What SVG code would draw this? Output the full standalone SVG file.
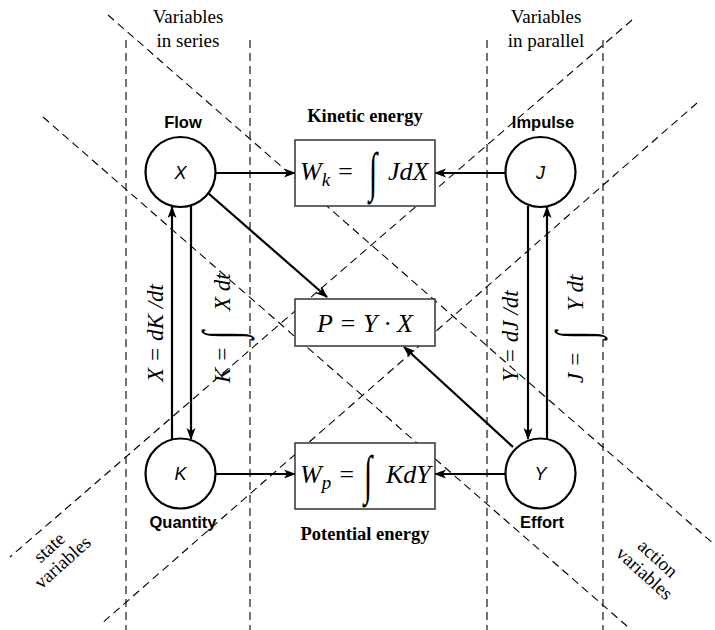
<svg xmlns="http://www.w3.org/2000/svg" width="715" height="630" viewBox="0 0 715 630">
<style>
.dash{stroke:#000;stroke-width:1.1;stroke-dasharray:8 5;fill:none}
.node{fill:#fff;stroke:#000;stroke-width:2.2}
.box{fill:#fff;stroke:#333;stroke-width:1.5}
.arr{stroke:#000;stroke-width:2.2;fill:none;marker-end:url(#ah)}
.cap{font-family:"Liberation Serif",serif;font-size:19px}
.bold{font-family:"Liberation Serif",serif;font-size:18.5px;font-weight:bold}
.sans{font-family:"Liberation Sans",Arial,sans-serif;font-size:16.5px;font-weight:bold}
.var{font-family:"Liberation Sans",Arial,sans-serif;font-size:18px;font-style:italic}
.math{font-family:"Liberation Serif","DejaVu Serif",serif;font-size:26px;font-style:italic}
.int{font-family:"Liberation Serif",serif;font-size:30px;font-weight:normal;font-style:normal}
.lab{font-family:"Liberation Serif","DejaVu Serif",serif;font-size:23px;font-style:italic}
</style>
<defs>
<marker id="ah" markerWidth="12" markerHeight="10" refX="11" refY="4.5" orient="auto" markerUnits="userSpaceOnUse">
<path d="M0,0 L12,4.5 L0,9 L3,4.5 z" fill="#000"/>
</marker>
</defs>
<rect width="715" height="630" fill="#fff"/>
<g id="guides">
<line class="dash" x1="126" y1="40" x2="126" y2="630"/>
<line class="dash" x1="250" y1="40" x2="250" y2="630"/>
<line class="dash" x1="487" y1="40" x2="487" y2="630"/>
<line class="dash" x1="603" y1="40" x2="603" y2="630"/>
<line class="dash" x1="108" y1="15" x2="715" y2="545"/>
<line class="dash" x1="43" y1="117" x2="628" y2="627"/>
<line class="dash" x1="632" y1="20" x2="10" y2="557"/>
<line class="dash" x1="697" y1="103" x2="100" y2="625"/>
<text class="cap" x="188" y="23" text-anchor="middle">Variables</text>
<text class="cap" x="188" y="47" text-anchor="middle">in series</text>
<text class="cap" x="546" y="23" text-anchor="middle">Variables</text>
<text class="cap" x="546" y="47" text-anchor="middle">in parallel</text>
<g transform="translate(56,555) rotate(-42)">
<text class="cap" font-size="17" x="0" y="-4" text-anchor="middle">state</text>
<text class="cap" font-size="17" x="0" y="16" text-anchor="middle">variables</text>
</g>
<g transform="translate(651,566) rotate(42)">
<text class="cap" font-size="17" x="0" y="-4" text-anchor="middle">action</text>
<text class="cap" font-size="17" x="0" y="16" text-anchor="middle">variables</text>
</g>
</g>
<g id="connectors">
<line class="arr" x1="216" y1="173" x2="295" y2="173"/>
<line class="arr" x1="505" y1="173" x2="435" y2="173"/>
<line class="arr" x1="216" y1="474" x2="295" y2="474"/>
<line class="arr" x1="505" y1="474" x2="435" y2="474"/>
<line class="arr" x1="172" y1="440" x2="172" y2="207"/>
<line class="arr" x1="191" y1="206" x2="191" y2="439"/>
<line class="arr" x1="528" y1="206" x2="528" y2="439"/>
<line class="arr" x1="547" y1="440" x2="547" y2="207"/>
<line class="arr" x1="208" y1="193" x2="327" y2="297"/>
<line class="arr" x1="513" y1="447" x2="404" y2="347"/>
<text class="lab" transform="translate(163,382) rotate(-90)">X = dK /dt</text>
<g transform="translate(230,383) rotate(-90)">
<text class="lab" x="0" y="0">K =</text>
<text class="int" transform="translate(44,10) scale(1,1.8)">∫</text>
<text class="lab" x="72" y="0">X dt</text>
</g>
<text class="lab" transform="translate(518,382) rotate(-90)">Y = dJ /dt</text>
<g transform="translate(583,383) rotate(-90)">
<text class="lab" x="0" y="0">J =</text>
<text class="int" transform="translate(44,10) scale(1,1.8)">∫</text>
<text class="lab" x="72" y="0">Y dt</text>
</g>
</g>
<g id="kinetic">
<rect class="box" x="295" y="140" width="140" height="66"/>
<text class="math" x="300" y="180">W<tspan font-size="19" dy="6">k</tspan><tspan dy="-6"> =</tspan></text>
<text class="int" transform="translate(369,190) scale(1,1.8)">∫</text>
<text class="math" x="388" y="180">JdX</text>
<text class="bold" x="365" y="122" text-anchor="middle">Kinetic energy</text>
</g>
<g id="power">
<rect class="box" x="295" y="299" width="140" height="47"/>
<text class="math" x="365" y="332" text-anchor="middle">P = Y · X</text>
</g>
<g id="potential">
<rect class="box" x="295" y="443" width="140" height="66"/>
<text class="math" x="300" y="483">W<tspan font-size="19" dy="6">p</tspan><tspan dy="-6"> =</tspan></text>
<text class="int" transform="translate(364,493) scale(1,1.8)">∫</text>
<text class="math" x="386" y="483">KdY</text>
<text class="bold" x="365" y="540" text-anchor="middle">Potential energy</text>
</g>
<g id="flow">
<circle class="node" cx="180.5" cy="172" r="35"/>
<text class="var" x="180.5" y="179" text-anchor="middle">X</text>
<text class="sans" x="183" y="128" text-anchor="middle">Flow</text>
</g>
<g id="impulse">
<circle class="node" cx="540.5" cy="172" r="35"/>
<text class="var" x="540.5" y="179" text-anchor="middle">J</text>
<text class="sans" x="543" y="128" text-anchor="middle">Impulse</text>
</g>
<g id="quantity">
<circle class="node" cx="180.5" cy="473.5" r="35"/>
<text class="var" x="180.5" y="480" text-anchor="middle">K</text>
<text class="sans" x="183" y="528" text-anchor="middle">Quantity</text>
</g>
<g id="effort">
<circle class="node" cx="540.5" cy="473.5" r="35"/>
<text class="var" x="540.5" y="480" text-anchor="middle">Y</text>
<text class="sans" x="542" y="528" text-anchor="middle">Effort</text>
</g>
</svg>
